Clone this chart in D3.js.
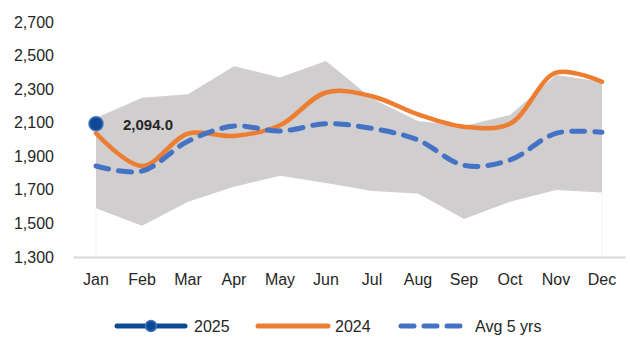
<!DOCTYPE html>
<html>
<head>
<meta charset="utf-8">
<script src="https://cdn.jsdelivr.net/npm/d3@7"></script>
<style>
  body { margin: 0; background: #fff; }
  svg text { font-family: "Liberation Sans", Arial, sans-serif; fill: #262626; }
</style>
</head>
<body>
<div id="chart"></div>
<script>
// chart values
var months = ["Jan", "Feb", "Mar", "Apr", "May", "Jun", "Jul", "Aug", "Sep", "Oct", "Nov", "Dec"];
var rangeMax = [2128, 2249, 2269, 2437, 2370, 2467, 2245, 2110, 2080, 2146, 2385, 2344];
var rangeMin = [1590, 1486, 1629, 1719, 1784, 1741, 1693, 1679, 1526, 1629, 1699, 1685];
var values2024 = [2037, 1842, 2035, 2021, 2085, 2280, 2258, 2150, 2076, 2094, 2398, 2344];
var avg5yrs = [1842, 1812, 1990, 2080, 2050, 2094, 2066, 1997, 1846, 1878, 2037, 2043];
var values2025 = [2094.0];
var yTicks = [1300, 1500, 1700, 1900, 2100, 2300, 2500, 2700];

var width = 630, height = 337;
var margin = { top: 22, right: 5, bottom: 80, left: 73 };

var svg = d3.select("#chart").append("svg")
    .attr("width", width)
    .attr("height", height);

var x = d3.scaleBand()
    .domain(months)
    .range([margin.left, width - margin.right]);
var cx = function (m) { return x(m) + x.bandwidth() / 2; };

var y = d3.scaleLinear()
    .domain([1300, 2700])
    .range([height - margin.bottom, margin.top]);

// min/max band
var bandData = months.map(function (m, i) { return { m: m, lo: rangeMin[i], hi: rangeMax[i] }; });
svg.append("path")
    .datum(bandData)
    .attr("fill", "#d0cece")
    .attr("d", d3.area()
        .x(function (d) { return cx(d.m); })
        .y0(function (d) { return y(d.lo); })
        .y1(function (d) { return y(d.hi); }));

// faint edges of the lower (blank) area
svg.append("g").selectAll("line")
    .data([bandData[0], bandData[bandData.length - 1]])
    .enter().append("line")
    .attr("x1", function (d) { return cx(d.m); })
    .attr("x2", function (d) { return cx(d.m); })
    .attr("y1", function (d) { return y(d.lo); })
    .attr("y2", y(1300))
    .attr("stroke", "#f2f2f2")
    .attr("stroke-width", 1);

// y axis labels
var yAxis = svg.append("g")
    .attr("transform", "translate(" + (margin.left - 19) + ",0)")
    .call(d3.axisLeft(y).tickValues(yTicks).tickSize(0).tickPadding(0)
        .tickFormat(d3.format(",")));
yAxis.select(".domain").remove();
yAxis.selectAll("text").style("font-size", "16px").attr("fill", "#262626");

// x axis
var xAxis = svg.append("g")
    .attr("transform", "translate(0," + y(1300) + ")")
    .call(d3.axisBottom(x).tickSize(0).tickPadding(17));
xAxis.select(".domain").attr("stroke", "#d9d9d9").attr("stroke-width", 2);
xAxis.selectAll("text").style("font-size", "16px").attr("fill", "#262626");

var smooth = d3.line()
    .x(function (d, i) { return cx(months[i]); })
    .y(function (d) { return y(d); })
    .curve(d3.curveCatmullRom.alpha(0.5));

// 2024
svg.append("path")
    .datum(values2024)
    .attr("fill", "none")
    .attr("stroke", "#ed7d31")
    .attr("stroke-width", 4.5)
    .attr("stroke-linecap", "round")
    .attr("d", smooth);

// 5 yr average
svg.append("path")
    .datum(avg5yrs)
    .attr("fill", "none")
    .attr("stroke", "#4472c4")
    .attr("stroke-width", 5)
    .attr("stroke-linecap", "round")
    .attr("stroke-dasharray", "13,10")
    .attr("d", smooth);

// 2025
svg.append("g").selectAll("circle")
    .data(values2025)
    .enter().append("circle")
    .attr("cx", function (d, i) { return cx(months[i]); })
    .attr("cy", function (d) { return y(d); })
    .attr("r", 7)
    .attr("fill", "#0d4a94")
    .attr("stroke", "#4472c4")
    .attr("stroke-width", 1.5);

svg.append("g").selectAll("text")
    .data(values2025)
    .enter().append("text")
    .attr("x", function (d, i) { return cx(months[i]) + 27; })
    .attr("y", function (d) { return y(d) + 6; })
    .style("font-size", "15px")
    .style("font-weight", "bold")
    .attr("fill", "#000")
    .text(function (d) { return d3.format(",.1f")(d); });

// legend
var legend = svg.append("g").attr("transform", "translate(0,326)");
var items = [
    { name: "2025", x0: 117, x1: 185, tx: 194, color: "#0d4a94", dash: null, marker: true },
    { name: "2024", x0: 258, x1: 328, tx: 335, color: "#ed7d31", dash: null, marker: false },
    { name: "Avg 5 yrs", x0: 401, x1: 460, tx: 475, color: "#4472c4", dash: "13,10", marker: false }
];
items.forEach(function (it) {
    legend.append("line")
        .attr("x1", it.x0).attr("x2", it.x1)
        .attr("stroke", it.color)
        .attr("stroke-width", 5)
        .attr("stroke-linecap", "round")
        .attr("stroke-dasharray", it.dash);
    if (it.marker) {
        legend.append("circle")
            .attr("cx", (it.x0 + it.x1) / 2)
            .attr("r", 5.5)
            .attr("fill", "#0d4a94")
            .attr("stroke", "#4472c4")
            .attr("stroke-width", 1.5);
    }
    legend.append("text")
        .attr("x", it.tx)
        .attr("y", 6)
        .style("font-size", "16px")
        .text(it.name);
});
</script>
</body>
</html>
